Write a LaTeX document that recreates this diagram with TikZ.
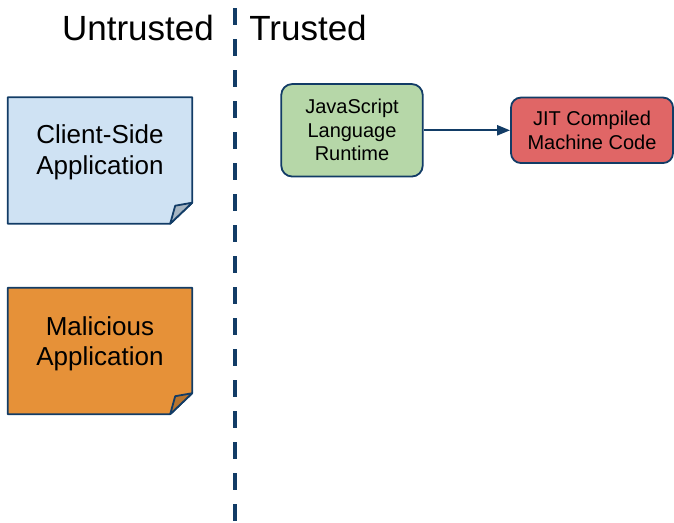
\documentclass[tikz,border=0pt]{standalone}
\usepackage{fontspec}
\setmainfont{Liberation Sans}
\usetikzlibrary{arrows.meta}

\definecolor{navy}{RGB}{18,60,102}
\definecolor{clientblue}{HTML}{CFE2F3}
\definecolor{malorange}{HTML}{E69138}
\definecolor{rtgreen}{HTML}{B6D7A8}
\definecolor{jitred}{HTML}{E06666}

\begin{document}
\begin{tikzpicture}[x=1pt, y=-1pt,
  every node/.style={align=center},
  % Zone headings
  heading/.style={font=\fontsize{35}{40}\selectfont, inner sep=0pt},
  % Sticky notes (outline is drawn by hand, node only keeps the size)
  notebox/.style={rectangle, minimum width=184pt, minimum height=126pt, inner sep=0pt},
  noteline/.style={draw=navy, line width=1.8pt, line join=round},
  notetext/.style={font=\fontsize{26}{30.5}\selectfont, inner sep=0pt},
  % Runtime boxes
  procbox/.style={rectangle, draw=navy, line width=1.8pt, rounded corners=11pt, font=\fontsize{20}{23.5}\selectfont, inner sep=0pt},
  % Edges
  flow/.style={draw=navy, line width=2.2pt, -{Triangle[length=13pt, width=10pt]}},
  divider/.style={draw=navy, line width=4pt, dash pattern=on 17pt off 14pt}
]
\useasboundingbox (0,0) rectangle (674,522);

% === Trust boundary ===
\coordinate (divtop) at (234.5,8);
\coordinate (divbot) at (234.5,522);
\draw[divider] (divtop) -- (divbot);

\node[heading, anchor=base] (untrusted) at (138,40) {Untrusted};
\node[heading, anchor=base] (trusted) at (308,40) {Trusted};

% === Untrusted side: applications ===
\node[notebox] (client) at (100,160.5) {};
\draw[noteline, fill=clientblue] (client.north west) -- (client.north east)
  -- ([yshift=21pt]client.south east) -- ([xshift=-22pt]client.south east)
  -- (client.south west) -- cycle;
\draw[noteline, fill=clientblue!80!black] ([yshift=21pt]client.south east)
  -- ([xshift=-22pt]client.south east) -- ([xshift=-17pt, yshift=18pt]client.south east) -- cycle;
\node[notetext] (clienttxt) at ([yshift=8pt]client.center) {Client-Side\\Application};

\node[notebox] (mal) at (100,351) {};
\draw[noteline, fill=malorange] (mal.north west) -- (mal.north east)
  -- ([yshift=21pt]mal.south east) -- ([xshift=-22pt]mal.south east)
  -- (mal.south west) -- cycle;
\draw[noteline, fill=malorange!80!black] ([yshift=21pt]mal.south east)
  -- ([xshift=-22pt]mal.south east) -- ([xshift=-17pt, yshift=18pt]mal.south east) -- cycle;
\node[notetext] (maltxt) at ([yshift=7pt]mal.center) {Malicious\\Application};

% === Trusted side: runtime ===
\node[procbox, fill=rtgreen, minimum width=141.5pt, minimum height=92.5pt] (js) at (352,130.3) {JavaScript\\Language\\Runtime};
\node[procbox, fill=jitred, minimum width=162pt, minimum height=65.5pt, rounded corners=10pt] (jit) at (592,130.3) {JIT Compiled\\Machine Code};

\draw[flow] (js.east) -- (jit.west);

\end{tikzpicture}
\end{document}
